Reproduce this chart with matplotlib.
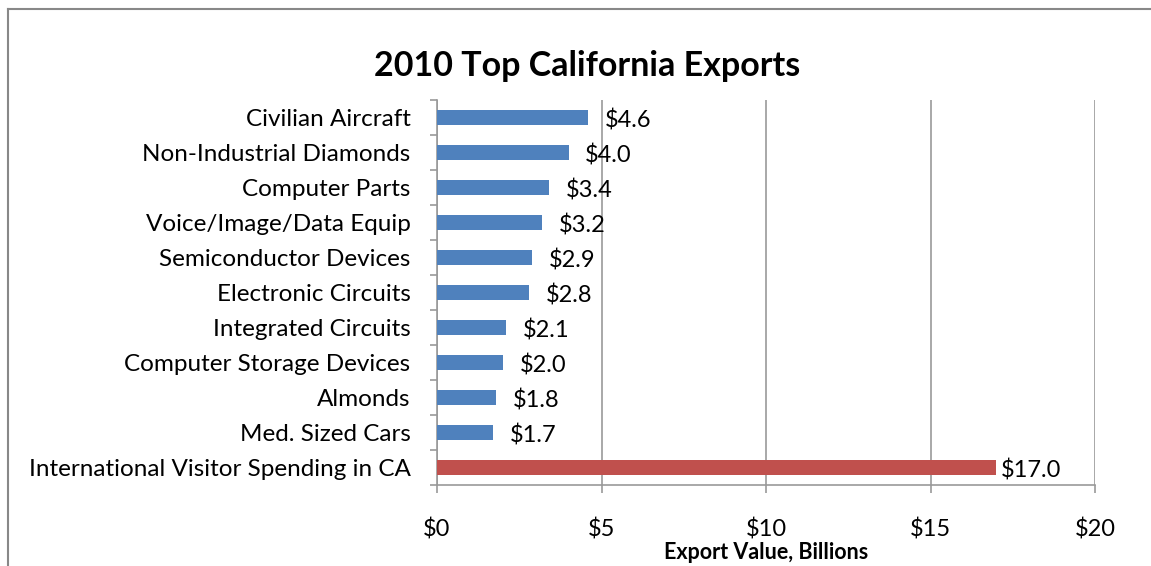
import matplotlib.pyplot as plt
from matplotlib.lines import Line2D
from matplotlib.ticker import FixedLocator

# 2010 top California exports, billions of dollars
categories = ["Civilian Aircraft", "Non-Industrial Diamonds", "Computer Parts",
              "Voice/Image/Data Equip", "Semiconductor Devices", "Electronic Circuits",
              "Integrated Circuits", "Computer Storage Devices", "Almonds",
              "Med. Sized Cars", "International Visitor Spending in CA"]
values = [4.6, 4.0, 3.4, 3.2, 2.9, 2.8, 2.1, 2.0, 1.8, 1.7, 17.0]
bar_colors = ["#4F81BD"] * 10 + ["#C0504D"]
x_ticks = [0, 5, 10, 15, 20]
x_tick_labels = ["$0", "$5", "$10", "$15", "$20"]

plt.rcParams['font.family'] = ['Lato', 'DejaVu Sans']

fig = plt.figure(figsize=(11.51, 5.66), dpi=100)
ax = fig.add_axes([437 / 1151, 1 - 485 / 566, 658 / 1151, 385 / 566])

n = len(categories)
ypos = list(range(n - 1, -1, -1))
ax.barh(ypos, values, height=0.42, color=bar_colors, edgecolor="none", zorder=3)

for i, (y, v) in enumerate(zip(ypos, values)):
    dx = 3 if i == n - 1 else 12
    ax.annotate(f"${v:.1f}", (v, y), xytext=(dx, -2), textcoords="offset points",
                va="center", ha="left", fontsize=17, zorder=4)

ax.set_xlim(0, 20)
ax.set_ylim(-0.5, n - 0.5)
ax.set_xticks(x_ticks)
ax.set_xticklabels(x_tick_labels, fontsize=17)
ax.tick_params(axis="x", length=6, width=1.2, color="#999999", pad=18)
ax.xaxis.grid(True, color="#999999", linewidth=1.2, zorder=0)

ax.set_yticks(ypos)
ax.set_yticklabels(categories, fontsize=17.5)
ax.tick_params(axis="y", which="major", length=0, pad=19)
ax.yaxis.set_minor_locator(FixedLocator([k + 0.5 for k in range(-1, n)]))
ax.tick_params(axis="y", which="minor", length=5, width=1.2, color="#999999")

for side in ["top", "right"]:
    ax.spines[side].set_visible(False)
for side in ["left", "bottom"]:
    ax.spines[side].set_color("#999999")
    ax.spines[side].set_linewidth(1.2)

ax.set_xlabel("Export Value, Billions", fontsize=15.5, fontweight="bold", labelpad=1)
fig.text(587 / 1151, 1 - 66 / 566, "2010 Top California Exports", ha="center",
         va="center", fontsize=24.5, fontweight="bold")

# outer chart frame
fig.add_artist(Line2D([8 / 1151, 1], [1 - 9 / 566] * 2, color="#888888", linewidth=1.5))
fig.add_artist(Line2D([8 / 1151] * 2, [0, 1 - 9 / 566], color="#888888", linewidth=1.5))

fig.savefig("out.png", dpi=100)
